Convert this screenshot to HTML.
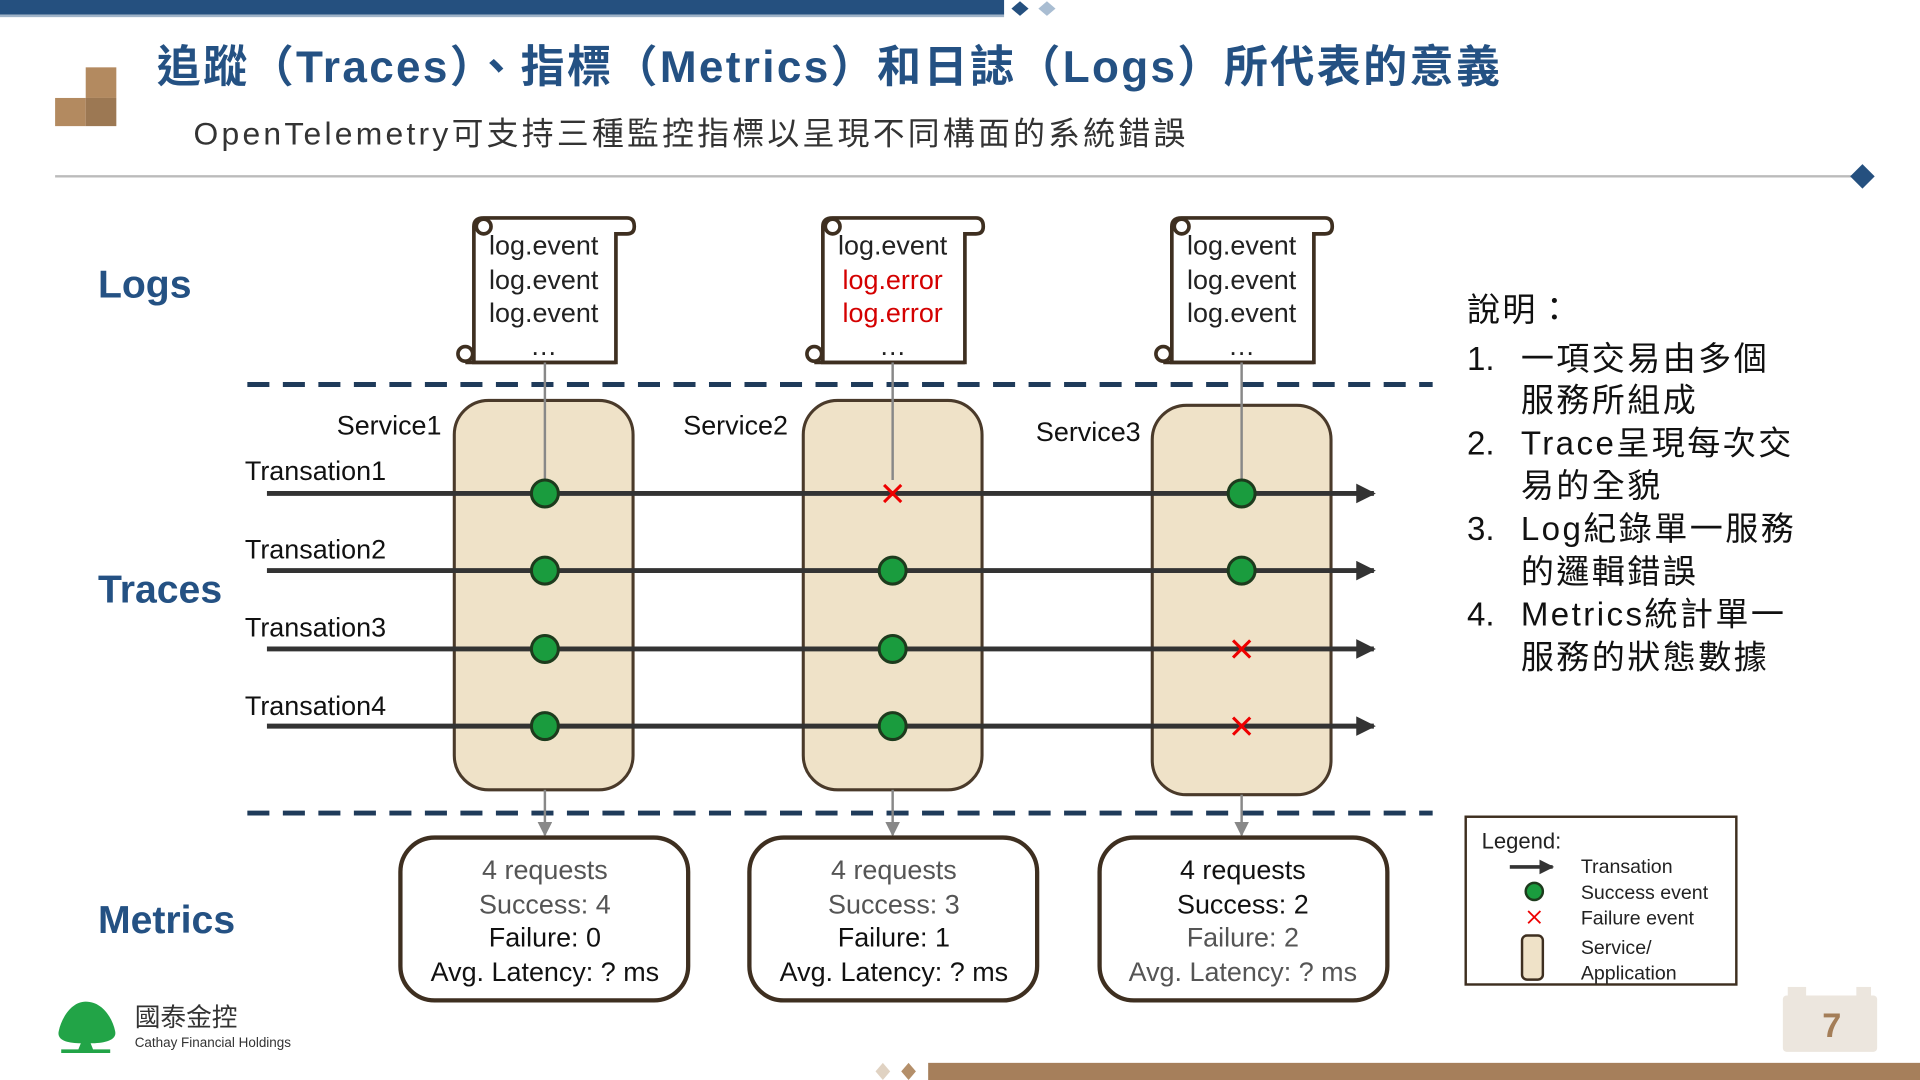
<!DOCTYPE html>
<html><head><meta charset="utf-8"><style>
html,body{margin:0;padding:0;background:#fff;width:1920px;height:1080px;overflow:hidden}
svg{display:block}
text{font-family:"Liberation Sans","Noto Sans CJK TC",sans-serif}
</style></head><body>
<svg width="1920" height="1080" viewBox="0 0 1568 882" xmlns="http://www.w3.org/2000/svg">
<defs>
<marker id="ah" viewBox="0 0 10 10" refX="9" refY="5" markerWidth="4" markerHeight="4" orient="auto"><path d="M0,0L10,5L0,10z" fill="#333"/></marker>
<marker id="ag" viewBox="0 0 10 10" refX="9" refY="5" markerWidth="6" markerHeight="6" orient="auto"><path d="M0,0L10,5L0,10z" fill="#888"/></marker>
</defs>
<rect x="0" y="0" width="820" height="12" fill="#25507f"/>
<rect x="0" y="12" width="820" height="2" fill="#9fb3c8"/>
<path d="M833,1 l7,6 l-7,6 l-7,-6z" fill="#25507f"/>
<path d="M855,1 l7,6 l-7,6 l-7,-6z" fill="#a9bdd2"/>
<rect x="70" y="55" width="25" height="25" fill="#b38a60"/>
<rect x="45" y="80" width="25" height="23" fill="#b38a60"/>
<rect x="70" y="80" width="25" height="23" fill="#9c7853"/>
<text x="128" y="67" font-size="36" font-weight="bold" fill="#245183" textLength="1097" lengthAdjust="spacing">追蹤（Traces）、指標（Metrics）和日誌（Logs）所代表的意義</text>
<text x="158" y="118" font-size="26" fill="#333" textLength="810" lengthAdjust="spacing">OpenTelemetry可支持三種監控指標以呈現不同構面的系統錯誤</text>
<line x1="45" y1="144" x2="1515" y2="144" stroke="#bbb" stroke-width="2"/>
<path d="M1521,134 l10,10 l-10,10 l-10,-10z" fill="#25507f"/>
<text x="80" y="243" font-size="32" font-weight="bold" fill="#245183">Logs</text>
<text x="80" y="492" font-size="32" font-weight="bold" fill="#245183">Traces</text>
<text x="80" y="762" font-size="32" font-weight="bold" fill="#245183">Metrics</text>
<line x1="202" y1="314" x2="1170" y2="314" stroke="#1f3b5a" stroke-width="4" stroke-dasharray="18 11"/>
<line x1="202" y1="664" x2="1170" y2="664" stroke="#1f3b5a" stroke-width="4" stroke-dasharray="18 11"/>
<rect x="371" y="327" width="146" height="318" rx="28" fill="#efe2c8" stroke="#4a3a2a" stroke-width="2.5"/>
<rect x="656" y="327" width="146" height="318" rx="28" fill="#efe2c8" stroke="#4a3a2a" stroke-width="2.5"/>
<rect x="941" y="331" width="146" height="318" rx="28" fill="#efe2c8" stroke="#4a3a2a" stroke-width="2.5"/>
<text x="275" y="355" font-size="22" fill="#111">Service1</text>
<text x="558" y="355" font-size="22" fill="#111">Service2</text>
<text x="846" y="360" font-size="22" fill="#111">Service3</text>
<g fill="#fff" stroke="#3e2f20" stroke-width="3">
<g id="s1">
<path d="M387,296 L387,185 Q387,178 395,178 L512,178 Q518,178 518,185 Q518,191 512,191 L503,191 L503,296 Z"/>
<path d="M380,296 L503,296" />
<circle cx="380" cy="289" r="6"/>
<circle cx="395" cy="185" r="6"/>
</g>
<use href="#s1" x="285"/>
<use href="#s1" x="570"/>
</g>
<g font-size="22" text-anchor="middle" fill="#222">
<text x="444" y="208">log.event</text><text x="444" y="236">log.event</text><text x="444" y="263">log.event</text><text x="444" y="290">…</text>
<text x="729" y="208">log.event</text><text x="729" y="236" fill="#d40000">log.error</text><text x="729" y="263" fill="#d40000">log.error</text><text x="729" y="290">…</text>
<text x="1014" y="208">log.event</text><text x="1014" y="236">log.event</text><text x="1014" y="263">log.event</text><text x="1014" y="290">…</text>
</g>
<g stroke="#888" stroke-width="2">
<line x1="445" y1="296" x2="445" y2="392"/><line x1="729" y1="296" x2="729" y2="392"/><line x1="1014" y1="296" x2="1014" y2="392"/>
<line x1="445" y1="645" x2="445" y2="682" marker-end="url(#ag)"/>
<line x1="729" y1="645" x2="729" y2="682" marker-end="url(#ag)"/>
<line x1="1014" y1="649" x2="1014" y2="682" marker-end="url(#ag)"/>
</g>
<g stroke="#333" stroke-width="4" marker-end="url(#ah)">
<line x1="218" y1="403" x2="1122" y2="403"/>
<line x1="218" y1="466" x2="1122" y2="466"/>
<line x1="218" y1="530" x2="1122" y2="530"/>
<line x1="218" y1="593" x2="1122" y2="593"/>
</g>
<g font-size="22" fill="#111">
<text x="200" y="392">Transation1</text><text x="200" y="456">Transation2</text><text x="200" y="520">Transation3</text><text x="200" y="584">Transation4</text>
</g>
<g fill="#1a9c3e" stroke="#1d3b1d" stroke-width="2.5">
<circle cx="445" cy="403" r="11"/><circle cx="1014" cy="403" r="11"/>
<circle cx="445" cy="466" r="11"/><circle cx="729" cy="466" r="11"/><circle cx="1014" cy="466" r="11"/>
<circle cx="445" cy="530" r="11"/><circle cx="729" cy="530" r="11"/>
<circle cx="445" cy="593" r="11"/><circle cx="729" cy="593" r="11"/>
</g>
<g stroke="#e00" stroke-width="2.5">
<path d="M722,396 l14,14 M736,396 l-14,14"/>
<path d="M1007,523 l14,14 M1021,523 l-14,14"/>
<path d="M1007,586 l14,14 M1021,586 l-14,14"/>
</g>
<g fill="#fff" stroke="#3e2f20" stroke-width="3.5">
<rect x="327" y="684" width="235" height="133" rx="28"/>
<rect x="612" y="684" width="235" height="133" rx="28"/>
<rect x="898" y="684" width="235" height="133" rx="28"/>
</g>
<g font-size="22" text-anchor="middle">
<text x="445" y="718" fill="#555">4 requests</text><text x="445" y="746" fill="#555">Success: 4</text><text x="445" y="773" fill="#111">Failure: 0</text><text x="445" y="801" fill="#111">Avg. Latency: ? ms</text>
<text x="730" y="718" fill="#555">4 requests</text><text x="730" y="746" fill="#555">Success: 3</text><text x="730" y="773" fill="#111">Failure: 1</text><text x="730" y="801" fill="#111">Avg. Latency: ? ms</text>
<text x="1015" y="718" fill="#111">4 requests</text><text x="1015" y="746" fill="#111">Success: 2</text><text x="1015" y="773" fill="#555">Failure: 2</text><text x="1015" y="801" fill="#555">Avg. Latency: ? ms</text>
</g>
<g font-size="27" fill="#111" letter-spacing="2">
<text x="1198" y="262">說明：</text>
<text x="1198" y="302" letter-spacing="0">1.</text><text x="1242" y="302">一項交易由多個</text><text x="1242" y="336">服務所組成</text>
<text x="1198" y="371" letter-spacing="0">2.</text><text x="1242" y="371">Trace呈現每次交</text><text x="1242" y="406">易的全貌</text>
<text x="1198" y="441" letter-spacing="0">3.</text><text x="1242" y="441">Log紀錄單一服務</text><text x="1242" y="476">的邏輯錯誤</text>
<text x="1198" y="511" letter-spacing="0">4.</text><text x="1242" y="511">Metrics統計單一</text><text x="1242" y="546">服務的狀態數據</text>
</g>
<rect x="1197" y="667" width="221" height="137" fill="#fff" stroke="#3e2f20" stroke-width="2"/>
<text x="1210" y="693" font-size="18" fill="#222">Legend:</text>
<line x1="1233" y1="708" x2="1268" y2="708" stroke="#333" stroke-width="3" marker-end="url(#ah)"/>
<circle cx="1253" cy="728" r="7" fill="#1a9c3e" stroke="#1d3b1d" stroke-width="2"/>
<path d="M1248,744 l10,10 M1258,744 l-10,10" stroke="#e00" stroke-width="1.5"/>
<rect x="1243" y="764" width="17" height="36" rx="4" fill="#efe2c8" stroke="#3e2f20" stroke-width="2"/>
<g font-size="16" fill="#222">
<text x="1291" y="713">Transation</text><text x="1291" y="734">Success event</text><text x="1291" y="755">Failure event</text><text x="1291" y="779">Service/</text><text x="1291" y="800">Application</text>
</g>
<rect x="1456" y="813" width="77" height="46" rx="3" fill="#ece6de"/>
<rect x="1460" y="806" width="15" height="10" fill="#ece6de"/><rect x="1516" y="806" width="12" height="10" fill="#ece6de"/>
<text x="1496" y="847" font-size="28" font-weight="bold" fill="#a47e58" text-anchor="middle">7</text>
<rect x="758" y="868" width="810" height="14" fill="#a67f5b"/>
<path d="M721,868 l6,7 l-6,7 l-6,-7z" fill="#e0d2c2"/>
<path d="M742,868 l6,7 l-6,7 l-6,-7z" fill="#b48f6a"/>
<path d="M70,818 C58,818 50,832 48,842 C46,850 56,852 66,852 L64,857 L50,857 L50,860 L90,860 L90,857 L76,857 L74,852 C84,852 96,850 94,842 C92,832 84,818 70,818Z" fill="#22a447"/>
<text x="110" y="838" font-size="21" fill="#333">國泰金控</text>
<text x="110" y="855" font-size="11" fill="#333">Cathay Financial Holdings</text>
</svg>
</body></html>
